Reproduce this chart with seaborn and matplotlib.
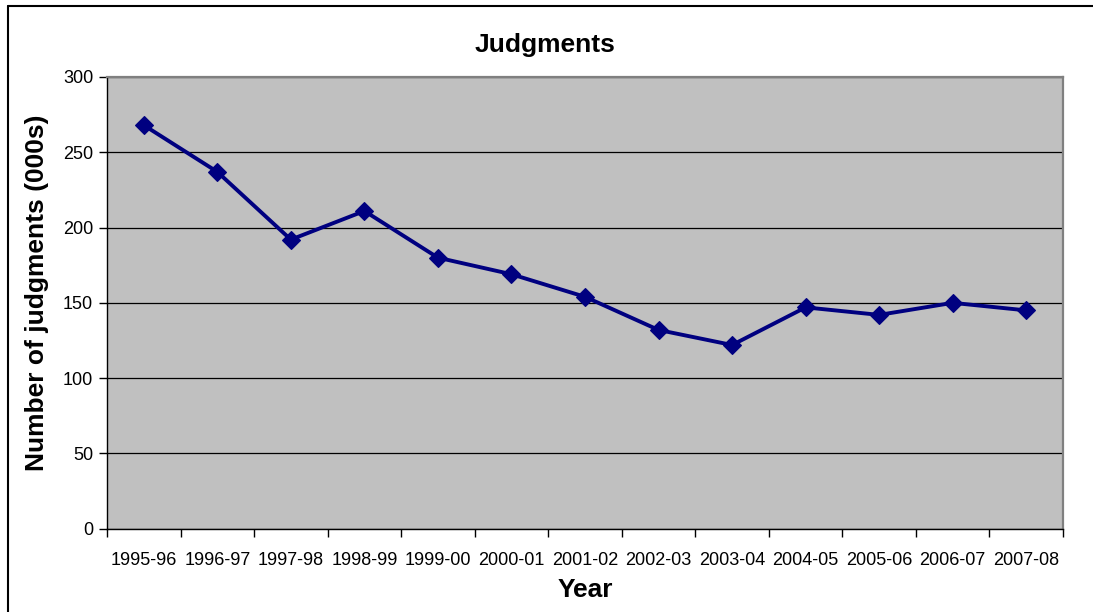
import matplotlib
matplotlib.use("Agg")
import matplotlib.pyplot as plt
from matplotlib.lines import Line2D
from matplotlib.ticker import FixedLocator, NullFormatter
import seaborn as sns
import pandas as pd

years = ["1995-96", "1996-97", "1997-98", "1998-99", "1999-00", "2000-01", "2001-02",
         "2002-03", "2003-04", "2004-05", "2005-06", "2006-07", "2007-08"]
judgments = [268, 237, 192, 211, 180, 169, 154, 132, 122, 147, 142, 150, 145]
y_ticks = [0, 50, 100, 150, 200, 250, 300]

sns.set_style("white")
plt.rcParams["font.family"] = ["Liberation Sans", "DejaVu Sans"]
plt.rcParams["text.color"] = "black"
plt.rcParams["axes.labelcolor"] = "black"
plt.rcParams["xtick.color"] = "black"
plt.rcParams["ytick.color"] = "black"

W, H = 1093, 612
fig = plt.figure(figsize=(W / 100, H / 100), dpi=100)
ax = fig.add_axes([107 / W, 1 - 528.7 / H, (1063 - 107) / W, (528.7 - 77) / H])

df = pd.DataFrame({"Year": years, "Judgments": judgments})
sns.lineplot(data=df, x="Year", y="Judgments", ax=ax, color="#000080", linewidth=2.8,
             marker="D", markersize=9, markeredgecolor="#000080", markeredgewidth=0.8,
             sort=False)

ax.set_facecolor("#C0C0C0")
ax.set_xlim(-0.5, len(years) - 0.5)
ax.set_ylim(0, 300)
ax.set_yticks(y_ticks)
ax.set_yticklabels([str(v) for v in y_ticks], fontsize=13, color="black")
ax.set_xticks(range(len(years)))
ax.set_xticklabels(years, fontsize=13, color="black")
ax.xaxis.set_minor_locator(FixedLocator([i - 0.5 for i in range(len(years) + 1)]))
ax.xaxis.set_minor_formatter(NullFormatter())
ax.tick_params(axis="x", which="major", length=0, pad=17, labelcolor="black")
ax.tick_params(axis="x", which="minor", length=6, width=1, direction="out", color="black", bottom=True)
ax.tick_params(axis="y", which="major", length=6, width=1, direction="out", pad=4, left=True,
               color="black", labelcolor="black")

ax.yaxis.grid(True, color="#000000", linewidth=0.9)
ax.xaxis.grid(False)
ax.set_axisbelow(True)

for s in ["left", "bottom"]:
    ax.spines[s].set_color("black")
    ax.spines[s].set_linewidth(1.0)
for s in ["top", "right"]:
    ax.spines[s].set_color("#808080")
    ax.spines[s].set_linewidth(1.6)
    ax.spines[s].set_visible(True)

ax.set_xlabel("Year", fontsize=19, fontweight="bold", labelpad=6, color="black")
ax.set_ylabel("")
fig.text(37 / W, 1 - 293 / H, "Number of judgments (000s)", fontsize=19, fontweight="bold",
         rotation=90, ha="center", va="center", color="black")
fig.text(545 / W, 1 - 45 / H, "Judgments", fontsize=19, fontweight="bold",
         ha="center", va="center", color="black")

# chart-area frame (only top and left visible in the crop)
fig.add_artist(Line2D([7.5 / W, 1.0], [1 - 5.8 / H, 1 - 5.8 / H], color="black", linewidth=1.5,
                      transform=fig.transFigure))
fig.add_artist(Line2D([7.5 / W, 7.5 / W], [0.0, 1 - 5.8 / H], color="black", linewidth=1.5,
                      transform=fig.transFigure))

fig.savefig("out.png", dpi=100)
